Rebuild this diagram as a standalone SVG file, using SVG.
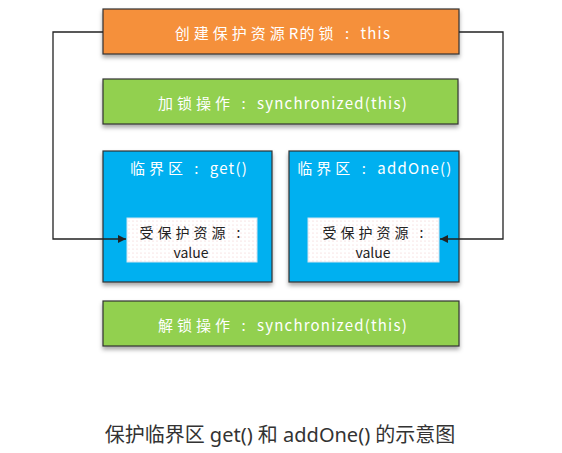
<svg xmlns="http://www.w3.org/2000/svg" width="562" height="453" viewBox="0 0 562 453">
<style>
.box{stroke:#333;stroke-width:1.2;filter:url(#sh)}
.t{font-family:"Noto Sans CJK SC","Noto Sans",sans-serif;font-size:15px;fill:#fff;text-anchor:middle;dominant-baseline:central}
.d{font-family:"Noto Sans CJK SC","Noto Sans",sans-serif;font-size:14px;fill:#222;text-anchor:middle;dominant-baseline:central}
.k{letter-spacing:4px}
.l{letter-spacing:1.2px}
.c{fill:none;stroke:#222;stroke-width:1.3}
</style>
<defs>
<filter id="sh" x="-10%" y="-20%" width="120%" height="150%"><feDropShadow dx="0" dy="3" stdDeviation="2" flood-color="#000" flood-opacity="0.35"/></filter>
<pattern id="dots" width="4" height="4" patternUnits="userSpaceOnUse"><rect width="4" height="4" fill="#fff"/><circle cx="1" cy="1" r="0.6" fill="#f3c9c9"/></pattern>
<marker id="ah" viewBox="0 0 10 10" refX="10" refY="5" markerWidth="8" markerHeight="8" orient="auto-start-reverse" markerUnits="userSpaceOnUse"><path d="M0,0 L10,5 L0,10 z" fill="#222"/></marker>
</defs>
<g id="create-lock">
<rect class="box" x="103" y="9" width="356" height="45" fill="#F5903A"/>
<text class="t" x="283" y="32"><tspan class="k">创建保护资源</tspan><tspan class="l">R</tspan><tspan class="k">的锁 : </tspan><tspan class="l">this</tspan></text>
</g>
<g id="lock-op">
<rect class="box" x="103" y="79" width="355" height="45" fill="#92D050"/>
<text class="t" x="283" y="102"><tspan class="k">加锁操作 : </tspan><tspan class="l">synchronized(this)</tspan></text>
</g>
<g id="critical-get">
<rect class="box" x="103" y="151" width="169" height="131" fill="#00B0F0"/>
<text class="t" x="189" y="167"><tspan class="k">临界区 : </tspan><tspan class="l">get()</tspan></text>
<rect x="127" y="218" width="130" height="44" fill="url(#dots)" stroke="#cfe3f0" stroke-width="1"/>
<text class="d" x="192" y="232" style="letter-spacing:4px">受保护资源 :</text>
<text class="d" x="191" y="252">value</text>
</g>
<g id="critical-addOne">
<rect class="box" x="289" y="151" width="170" height="131" fill="#00B0F0"/>
<text class="t" x="375" y="167"><tspan class="k">临界区 : </tspan><tspan class="l">addOne()</tspan></text>
<rect x="308" y="218" width="131" height="44" fill="url(#dots)" stroke="#cfe3f0" stroke-width="1"/>
<text class="d" x="375" y="232" style="letter-spacing:4px">受保护资源 :</text>
<text class="d" x="373" y="252">value</text>
</g>
<g id="unlock-op">
<rect class="box" x="103" y="301" width="356" height="45" fill="#92D050"/>
<text class="t" x="283" y="324"><tspan class="k">解锁操作 : </tspan><tspan class="l">synchronized(this)</tspan></text>
</g>
<g id="connectors">
<path class="c" d="M103,32 H53 V239 H126" marker-end="url(#ah)"/>
<path class="c" d="M459,32 H503 V239 H440" marker-end="url(#ah)"/>
</g>
<text x="280" y="442" font-family="'Noto Sans','Noto Sans CJK SC',sans-serif" font-size="20" fill="#333" text-anchor="middle">保护临界区 get() 和 addOne() 的示意图</text>
</svg>
